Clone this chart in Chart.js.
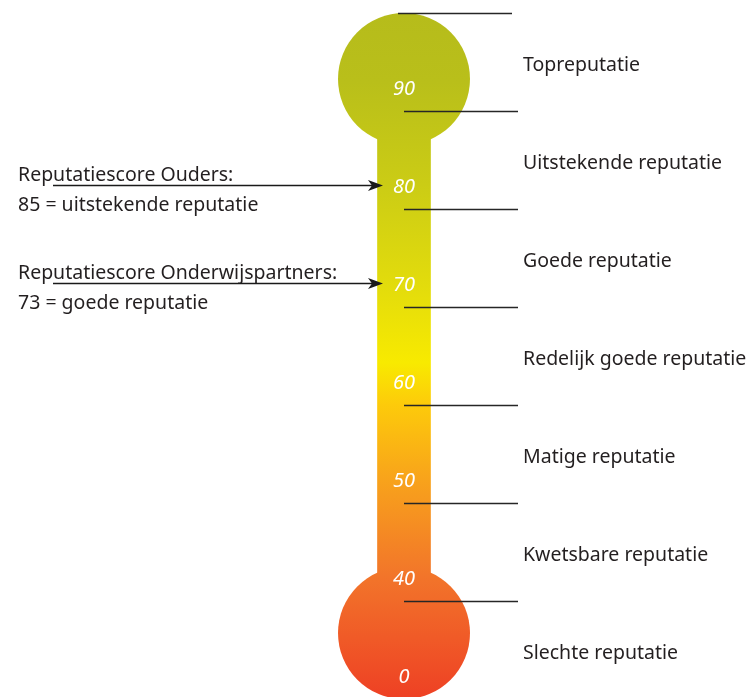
<!DOCTYPE html>
<html>
<head>
<meta charset="utf-8">
<script src="https://cdn.jsdelivr.net/npm/chart.js@4"></script>
<style>
  html, body { margin: 0; padding: 0; background: #fff; }
  #wrap { width: 749px; height: 697px; }
</style>
</head>
<body>
<div id="wrap"><canvas id="thermo" width="749" height="697"></canvas></div>
<script>
// === Data ===
const levels = [0, 40, 50, 60, 70, 80, 90, 100];
const tickLabels = ['0', '40', '50', '60', '70', '80', '90'];
const categories = [
  'Slechte reputatie',
  'Kwetsbare reputatie',
  'Matige reputatie',
  'Redelijk goede reputatie',
  'Goede reputatie',
  'Uitstekende reputatie',
  'Topreputatie'
];
const groups = ['Ouders', 'Onderwijspartners'];
const scores = [85, 73];
const verdicts = ['uitstekende reputatie', 'goede reputatie'];

// === Helpers ===
const TEXT = '#231f20';
const FONT = '"Noto Sans", "Open Sans", sans-serif';

// score -> position on the band axis (index of level)
function levelIndex(score) {
  for (let i = 0; i < levels.length - 1; i++) {
    if (score >= levels[i] && score < levels[i + 1]) return i;
  }
  return levels.length - 1;
}

function tubeGradient(chart) {
  const c = chart.ctx;
  const y = chart.scales.y;
  const g = c.createLinearGradient(0, y.getPixelForValue(7), 0, y.getPixelForValue(0));
  g.addColorStop(0.00, '#b6bc1b');
  g.addColorStop(0.10, '#b9bf1a');
  g.addColorStop(0.25, '#cbcc15');
  g.addColorStop(0.40, '#e3dc0c');
  g.addColorStop(0.51, '#f8ea00');
  g.addColorStop(0.57, '#fdcb0a');
  g.addColorStop(0.68, '#f8a31b');
  g.addColorStop(0.82, '#f2752a');
  g.addColorStop(1.00, '#ee4024');
  return g;
}

const thermoDecor = {
  id: 'thermoDecor',
  afterDatasetsDraw(chart) {
    const c = chart.ctx;
    const x = chart.scales.x;
    const y = chart.scales.y;
    const cx = x.getPixelForValue(404);
    c.save();

    // band boundary lines
    c.strokeStyle = '#262626';
    c.lineWidth = 1.3;
    for (let i = 1; i < levels.length; i++) {
      const py = Math.round(y.getPixelForValue(i)) + 0.5;
      const shift = i === levels.length - 1 ? -6 : 0;
      c.beginPath();
      c.moveTo(cx + shift, py);
      c.lineTo(cx + 114 + shift, py);
      c.stroke();
    }

    // tick labels inside the tube
    c.fillStyle = '#ffffff';
    c.font = 'italic 20px ' + FONT;
    c.textAlign = 'center';
    c.textBaseline = 'middle';
    tickLabels.forEach((t, i) => {
      c.fillText(t, cx, y.getPixelForValue(i) - 22);
    });

    // category names
    c.fillStyle = TEXT;
    c.font = '19.5px ' + FONT;
    c.textAlign = 'left';
    categories.forEach((t, i) => {
      c.fillText(t, cx + 119, y.getPixelForValue(i + 0.5) + 3);
    });

    // score annotations with arrows
    scores.forEach((s, k) => {
      const py = Math.round(y.getPixelForValue(levelIndex(s)) - 24) + 0.5;
      c.fillStyle = TEXT;
      c.textBaseline = 'alphabetic';
      c.fillText('Reputatiescore ' + groups[k] + ':', 18, py - 5);
      c.fillText(s + ' = ' + verdicts[k], 18, py + 25);

      const tip = cx - 21;
      c.strokeStyle = '#1a1a1a';
      c.lineWidth = 1.3;
      c.beginPath();
      c.moveTo(53, py);
      c.lineTo(tip - 10, py);
      c.stroke();
      c.fillStyle = '#1a1a1a';
      c.beginPath();
      c.moveTo(tip, py);
      c.lineTo(tip - 15, py - 5.5);
      c.lineTo(tip - 11, py);
      c.lineTo(tip - 15, py + 5.5);
      c.closePath();
      c.fill();
    });

    c.restore();
  }
};

// === Chart ===
const ctx = document.getElementById('thermo');
new Chart(ctx, {
  data: {
    datasets: [
      {
        type: 'bar',
        data: [{ x: 404, y: [0.6, 6.4] }],
        barThickness: 53,
        borderWidth: 0,
        clip: false,
        backgroundColor: (c) => c.chart.chartArea ? tubeGradient(c.chart) : '#f8ea00'
      },
      {
        type: 'bubble',
        data: [
          { x: 404, y: 6.327, r: 66 },
          { x: 404, y: 0.673, r: 66 }
        ],
        borderWidth: 0,
        hoverRadius: 0,
        clip: false,
        backgroundColor: (c) => c.chart.chartArea ? tubeGradient(c.chart) : '#f8ea00'
      }
    ]
  },
  options: {
    responsive: false,
    animation: false,
    events: [],
    layout: { padding: 0, autoPadding: false },
    plugins: { legend: { display: false }, tooltip: { enabled: false } },
    scales: {
      x: { type: 'linear', min: 0, max: 749, offset: false, display: false },
      y: { type: 'linear', min: 0.0204, max: 7.1327, offset: false, display: false }
    }
  },
  plugins: [thermoDecor]
});
</script>
</body>
</html>
